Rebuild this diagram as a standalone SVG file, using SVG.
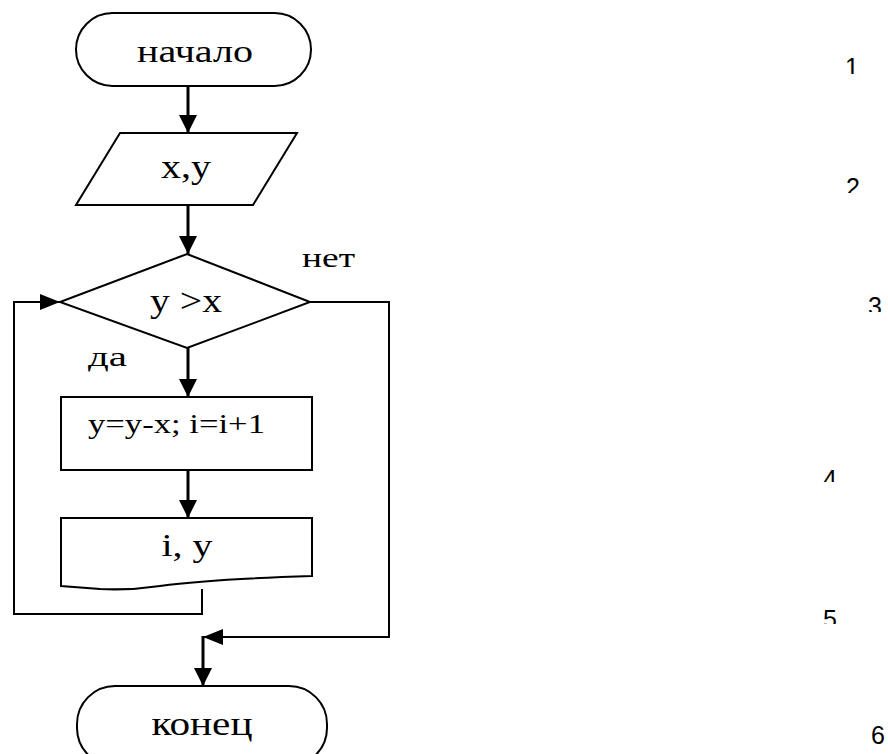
<svg xmlns="http://www.w3.org/2000/svg" width="888" height="754" viewBox="0 0 888 754">
<style>
.shape{fill:#fff;stroke:#000;stroke-width:2}
.t{font-family:"Liberation Serif","Times New Roman",serif;fill:#000}
.n{font-family:"Liberation Sans",Arial,sans-serif;font-size:25px;fill:#000;text-anchor:middle}
.c{fill:none;stroke:#000;stroke-width:3}
.c2{fill:none;stroke:#000;stroke-width:2}
</style>
<defs>
<marker id="ah" viewBox="0 0 18 18" refX="18" refY="9" markerWidth="18" markerHeight="18" markerUnits="userSpaceOnUse" orient="auto">
<path d="M0,0 L18,9 L0,18 Z" fill="#000"/>
</marker>
<marker id="ahs" viewBox="0 0 20 16" refX="20" refY="8" markerWidth="20" markerHeight="16" markerUnits="userSpaceOnUse" orient="auto">
<path d="M0,0 L20,8 L0,16 Z" fill="#000"/>
</marker>
<clipPath id="k1"><rect x="830" y="40" width="50" height="34"/></clipPath>
<clipPath id="k2"><rect x="830" y="160" width="50" height="33"/></clipPath>
<clipPath id="k3"><rect x="855" y="280" width="40" height="32"/></clipPath>
<clipPath id="k4"><rect x="810" y="450" width="50" height="32"/></clipPath>
<clipPath id="k5"><rect x="810" y="590" width="50" height="34"/></clipPath>
</defs>
<g id="connectors">
<line class="c" x1="188" y1="86" x2="188" y2="133" marker-end="url(#ah)"/>
<line class="c" x1="188" y1="205" x2="188" y2="254" marker-end="url(#ah)"/>
<line class="c" x1="188" y1="348" x2="188" y2="397" marker-end="url(#ah)"/>
<line class="c" x1="188" y1="470" x2="188" y2="518" marker-end="url(#ah)"/>
<polyline class="c2" points="202,589 202,614 14,614 14,302 60,302" marker-end="url(#ahs)"/>
<polyline class="c2" points="310,302 389,302 389,637 203,637" marker-end="url(#ahs)"/>
<line class="c" x1="203" y1="636" x2="203" y2="686" marker-end="url(#ah)"/>
</g>
<g id="start">
<rect class="shape" x="76" y="13" width="235" height="73" rx="36.5"/>
<text class="t" x="195" y="62" font-size="32" text-anchor="middle" textLength="116" lengthAdjust="spacingAndGlyphs">начало</text>
</g>
<g id="input">
<polygon class="shape" points="120,133 297,133 253,205 76,205"/>
<text class="t" x="186" y="178" font-size="34" text-anchor="middle" textLength="50" lengthAdjust="spacingAndGlyphs">x,y</text>
</g>
<g id="decision">
<polygon class="shape" points="187,254 310,302 187,348 60,302"/>
<text class="t" x="186" y="312" font-size="34" text-anchor="middle" textLength="72" lengthAdjust="spacingAndGlyphs">y &gt;x</text>
<text class="t" x="302" y="267" font-size="27" textLength="53" lengthAdjust="spacingAndGlyphs">нет</text>
<text class="t" x="88" y="366" font-size="28" textLength="39" lengthAdjust="spacingAndGlyphs">да</text>
</g>
<g id="process">
<rect class="shape" x="61" y="397" width="251" height="73"/>
<text class="t" x="88" y="433" font-size="27" textLength="177" lengthAdjust="spacingAndGlyphs">y=y-x; i=i+1</text>
</g>
<g id="output">
<path class="shape" d="M61,518 L312,518 L312,576 C250,578 190,582 160,586 C140,589 120,590 100,589 L61,586 Z"/>
<text class="t" x="187" y="556" font-size="32" text-anchor="middle" textLength="51" lengthAdjust="spacingAndGlyphs">i, y</text>
</g>
<g id="end">
<rect class="shape" x="77" y="686" width="250" height="80" rx="38"/>
<text class="t" x="202" y="735" font-size="34" text-anchor="middle" textLength="101" lengthAdjust="spacingAndGlyphs">конец</text>
</g>
<g id="numbers">
<text class="n" x="852" y="76" clip-path="url(#k1)">1</text>
<text class="n" x="853" y="196" clip-path="url(#k2)">2</text>
<text class="n" x="875" y="315" clip-path="url(#k3)">3</text>
<text class="n" x="830" y="488" clip-path="url(#k4)">4</text>
<text class="n" x="830" y="628" clip-path="url(#k5)">5</text>
<text class="n" x="878" y="744">6</text>
</g>
</svg>
